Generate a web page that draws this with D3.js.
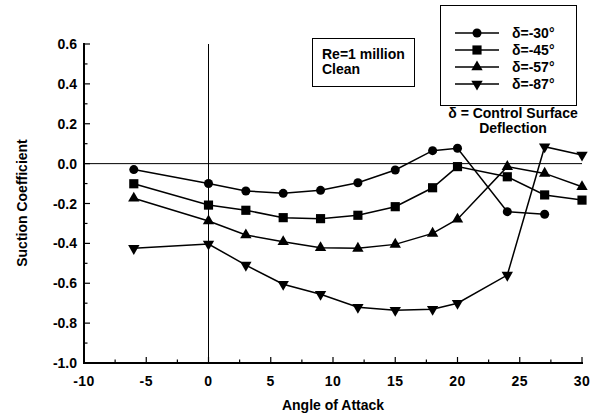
<!DOCTYPE html>
<html>
<head>
<meta charset="utf-8">
<script src="https://cdn.jsdelivr.net/npm/d3@7"></script>
<style>
  html, body { margin: 0; padding: 0; background: #fff; }
  svg { display: block; }
  text { font-family: "Liberation Sans", Arial, Helvetica, sans-serif; font-weight: bold; fill: #000; }
</style>
</head>
<body>
<svg id="chart" width="600" height="418"></svg>
<script>
// Angle of attack for each measured point (degrees)
const anglesD30 = [-6, 0, 3, 6, 9, 12, 15, 18, 20, 24, 27];
const suctionD30 = [-0.03, -0.10, -0.137, -0.149, -0.134, -0.096, -0.032, 0.065, 0.077, -0.241, -0.254];

const anglesD45 = [-6, 0, 3, 6, 9, 12, 15, 18, 20, 24, 27, 30];
const suctionD45 = [-0.101, -0.208, -0.234, -0.271, -0.276, -0.259, -0.216, -0.121, -0.015, -0.066, -0.157, -0.183];

const anglesD57 = [-6, 0, 3, 6, 9, 12, 15, 18, 20, 24, 27, 30];
const suctionD57 = [-0.174, -0.288, -0.358, -0.392, -0.422, -0.425, -0.405, -0.350, -0.279, -0.015, -0.049, -0.116];

const anglesD87 = [-6, 0, 3, 6, 9, 12, 15, 18, 20, 24, 27, 30];
const suctionD87 = [-0.425, -0.403, -0.509, -0.605, -0.655, -0.72, -0.735, -0.73, -0.70, -0.559, 0.085, 0.043];

const seriesNames = ["δ=-30°", "δ=-45°", "δ=-57°", "δ=-87°"];
const seriesSymbols = [d3.symbolCircle, d3.symbolSquare, d3.symbolTriangle, "down"];

const xTickValues = [-10, -5, 0, 5, 10, 15, 20, 25, 30];
const yTickValues = [0.6, 0.4, 0.2, 0.0, -0.2, -0.4, -0.6, -0.8, -1.0];

const svg = d3.select("#chart");
const x = d3.scaleLinear().domain([-10, 30]).range([84, 582]);
const y = d3.scaleLinear().domain([-1.0, 0.6]).range([363, 44]);

// Plain hyphen-minus for negative tick labels
const fmtX = d => String(d);
const fmtY = d => d3.format(".1f")(d).replace("\u2212", "-");

// Reference lines at zero
svg.append("line").attr("x1", x(-10)).attr("x2", x(30)).attr("y1", y(0)).attr("y2", y(0))
  .attr("stroke", "#000").attr("stroke-width", 1);
svg.append("line").attr("x1", x(0)).attr("x2", x(0)).attr("y1", y(0.6)).attr("y2", y(-1.0))
  .attr("stroke", "#000").attr("stroke-width", 1);

// Axes: ticks point inward, major + minor
const xMinor = d3.range(-10, 30.01, 2.5);
const yMinor = d3.range(-1.0, 0.601, 0.1).map(v => Math.round(v * 10) / 10);

const gx = svg.append("g");
gx.append("line").attr("x1", x(-10) - 1).attr("x2", x(30) + 1).attr("y1", y(-1)).attr("y2", y(-1))
  .attr("stroke", "#000").attr("stroke-width", 2);
gx.selectAll("line.tk").data(xMinor).join("line").attr("class", "tk")
  .attr("x1", d => x(d)).attr("x2", d => x(d))
  .attr("y1", y(-1)).attr("y2", d => y(-1) - (d % 5 === 0 ? 6 : 3.5))
  .attr("stroke", "#000").attr("stroke-width", 1.2);
gx.selectAll("text").data(xTickValues).join("text")
  .attr("x", d => x(d)).attr("y", 386).attr("text-anchor", "middle")
  .attr("font-size", 14).attr("letter-spacing", 0.5).text(fmtX);

const gy = svg.append("g");
gy.append("line").attr("x1", x(-10)).attr("x2", x(-10)).attr("y1", y(0.6) - 1).attr("y2", y(-1) + 1)
  .attr("stroke", "#000").attr("stroke-width", 2);
gy.selectAll("line.tk").data(yMinor).join("line").attr("class", "tk")
  .attr("x1", x(-10)).attr("x2", d => x(-10) + (Math.round(d * 10) % 2 === 0 ? 6 : 3.5))
  .attr("y1", d => y(d)).attr("y2", d => y(d))
  .attr("stroke", "#000").attr("stroke-width", 1.2);
gy.selectAll("text").data(yTickValues).join("text")
  .attr("x", 77).attr("y", d => y(d) + 5).attr("text-anchor", "end")
  .attr("font-size", 14).text(fmtY);

// Axis titles
svg.append("text").attr("x", x(10)).attr("y", 410).attr("text-anchor", "middle")
  .attr("font-size", 14).text("Angle of Attack");
svg.append("text").attr("transform", "translate(27,203) rotate(-90)").attr("text-anchor", "middle")
  .attr("font-size", 14).text("Suction Coefficient");

// Data series
const allSeries = [
  { xs: anglesD30, ys: suctionD30 },
  { xs: anglesD45, ys: suctionD45 },
  { xs: anglesD57, ys: suctionD57 },
  { xs: anglesD87, ys: suctionD87 }
];
const line = d3.line().x(d => x(d[0])).y(d => y(d[1]));

function markerPath(sym) {
  if (sym === "down") return d3.symbol(d3.symbolTriangle, 56)();
  if (sym === d3.symbolSquare) return d3.symbol(sym, 84)();
  if (sym === d3.symbolTriangle) return d3.symbol(sym, 56)();
  return d3.symbol(sym, 64)();
}
function markerTransform(sym, px, py) {
  return sym === "down" ? `translate(${px},${py}) rotate(180)` : `translate(${px},${py})`;
}

allSeries.forEach((s, i) => {
  const pts = s.xs.map((a, k) => [a, s.ys[k]]);
  svg.append("path").datum(pts).attr("d", line)
    .attr("fill", "none").attr("stroke", "#000").attr("stroke-width", 1.5);
  svg.append("g").selectAll("path").data(pts).join("path")
    .attr("d", markerPath(seriesSymbols[i]))
    .attr("transform", d => markerTransform(seriesSymbols[i], x(d[0]), y(d[1])))
    .attr("fill", "#000");
});

// Flow condition note
svg.append("rect").attr("x", 312.5).attr("y", 38.5).attr("width", 102).attr("height", 48)
  .attr("fill", "#fff").attr("stroke", "#000").attr("stroke-width", 1);
svg.append("text").attr("x", 322).attr("y", 59).attr("font-size", 14).text("Re=1  million");
svg.append("text").attr("x", 322).attr("y", 74).attr("font-size", 14).text("Clean");

// Legend
const lg = svg.append("g");
lg.append("rect").attr("x", 440.5).attr("y", 5.5).attr("width", 136).attr("height", 100)
  .attr("fill", "#fff").attr("stroke", "#000").attr("stroke-width", 1);
const rowY = [33, 50, 67, 84];
seriesNames.forEach((name, i) => {
  lg.append("line").attr("x1", 455).attr("x2", 499).attr("y1", rowY[i]).attr("y2", rowY[i])
    .attr("stroke", "#000").attr("stroke-width", 1.5);
  lg.append("path").attr("d", markerPath(seriesSymbols[i]))
    .attr("transform", markerTransform(seriesSymbols[i], 477, rowY[i])).attr("fill", "#000");
  lg.append("text").attr("x", 512).attr("y", rowY[i] + 5).attr("font-size", 14).text(name);
});
svg.append("text").attr("x", 513).attr("y", 118).attr("text-anchor", "middle")
  .attr("font-size", 14).text("δ = Control Surface");
svg.append("text").attr("x", 513).attr("y", 133).attr("text-anchor", "middle")
  .attr("font-size", 14).text("Deflection");
</script>
</body>
</html>
